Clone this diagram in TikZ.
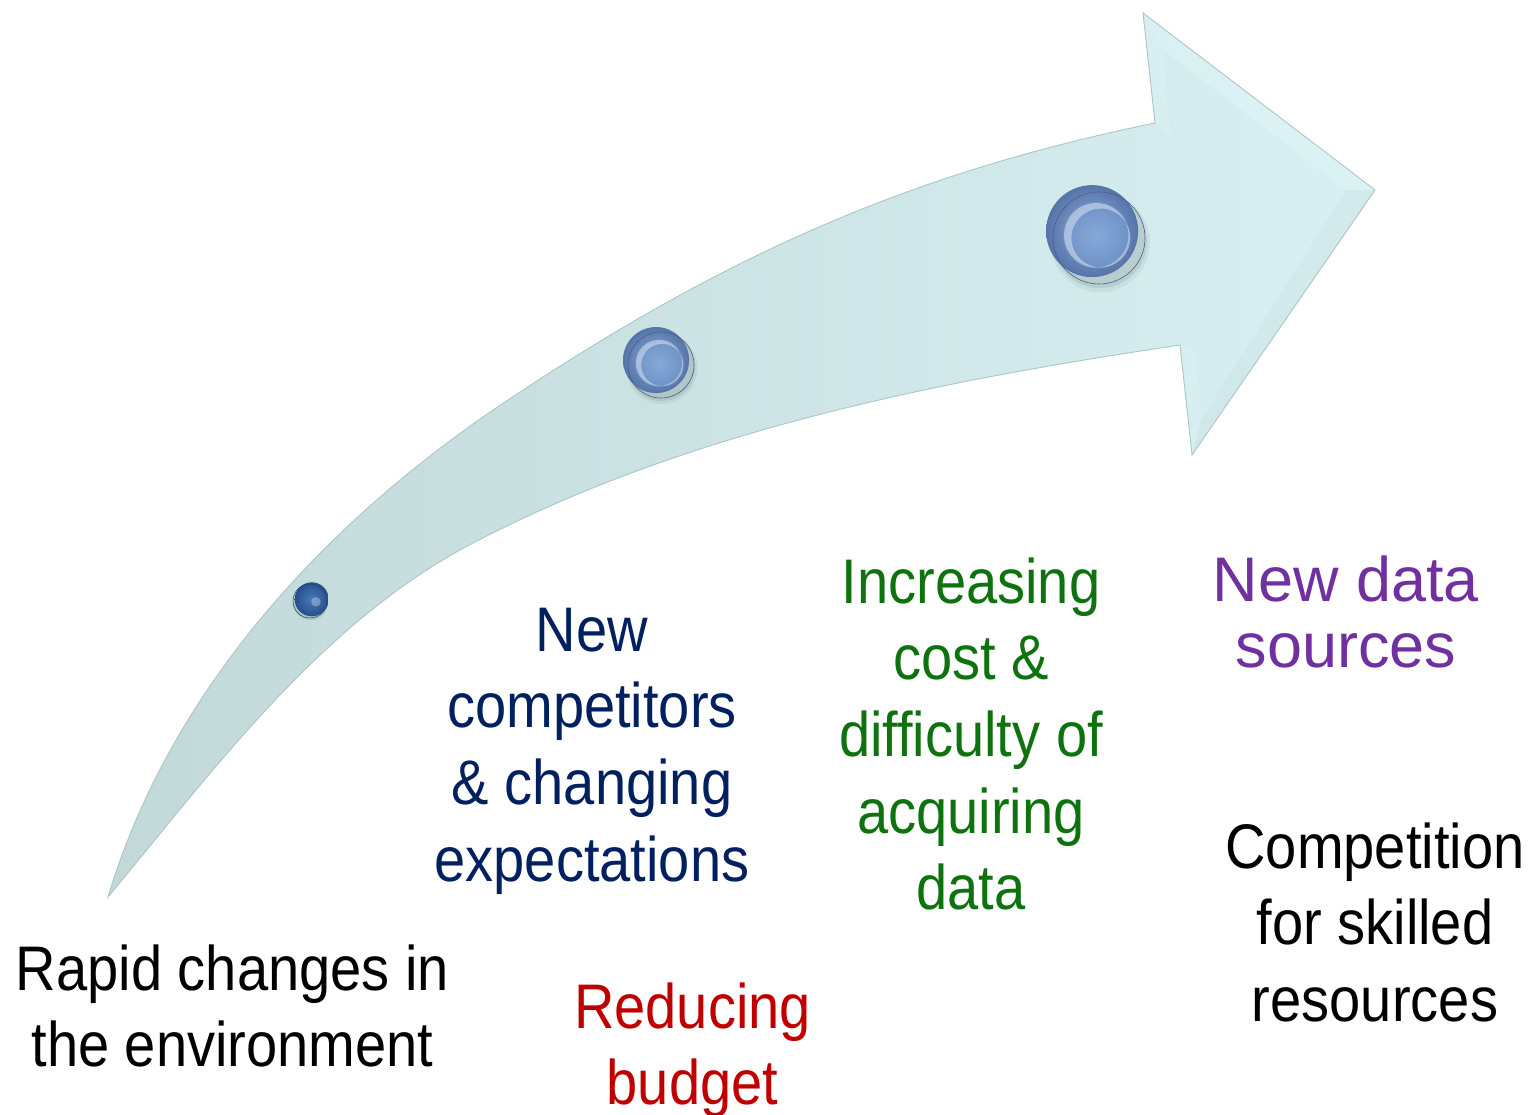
\documentclass[tikz,border=0pt]{standalone}
\usepackage{fontspec}
\newfontfamily\condsans[FakeStretch=0.89]{Liberation Sans}
\newfontfamily\plainsans{Liberation Sans}

\definecolor{bandL}{HTML}{C2D8D9}
\definecolor{bandR}{HTML}{D8F0F2}
\definecolor{bandEdge}{HTML}{ABC6C8}
\definecolor{bevelHi}{HTML}{E2F6F8}
\definecolor{bevelLo}{HTML}{CCE4E6}
\definecolor{navy}{HTML}{002060}
\definecolor{darkred}{HTML}{C00000}
\definecolor{leafgreen}{HTML}{0E720E}
\definecolor{violet}{HTML}{7030A0}
\definecolor{rimblue}{HTML}{45618F}
\definecolor{outerblue}{HTML}{5574A8}
\definecolor{lightblue}{HTML}{92AFDA}
\definecolor{capblue}{HTML}{6F92C6}
\definecolor{capblueL}{HTML}{87A9DA}
\definecolor{deepblue}{HTML}{24508C}
\definecolor{midblue}{HTML}{4A7AB8}

% centred stack of lines, baseline on the first line
\newcommand\textlines[1]{\vtop{\halign{\hfil##\hfil\cr#1\crcr}}}

% glossy button with a raised cap: #1 name, #2 centre, #3 radius
\newcommand\buttondot[3]{%
  \node[circle, inner sep=0pt, minimum size=2*#3pt] (#1) at (#2) {};
  \begin{scope}[shift={(#1.center)}, scale=#3]
    \fill[black, opacity=0.05] (0.03,0.10) circle (1.08);
    \fill[black, opacity=0.08] (0.02,0.07) circle (1.02);
    \shade[inner color=lightblue, outer color=outerblue] (-0.15,-0.15) circle (1);
    \draw[rimblue, line width=0.6pt] (0,0) circle (1);
    \shade[inner color=capblueL, outer color=capblue] (-0.06,-0.06) circle (0.72);
    \fill[white, opacity=0.40, even odd rule]
      (-0.06,-0.06) circle (0.70) (0.04,0.0) circle (0.64);
  \end{scope}}

% small glossy bead: #1 name, #2 centre, #3 radius
\newcommand\beaddot[3]{%
  \node[circle, inner sep=0pt, minimum size=2*#3pt] (#1) at (#2) {};
  \begin{scope}[shift={(#1.center)}, scale=#3]
    \fill[black, opacity=0.10] (0.03,0.10) circle (1.03);
    \shade[inner color=midblue, outer color=deepblue] (0.1,-0.1) circle (1);
    \draw[deepblue!80!black, line width=0.5pt] (0,0) circle (1);
    \fill[white, opacity=0.30] (0.35,0.05) circle (0.28);
  \end{scope}}

\tikzset{
  band/.style={left color=bandL, right color=bandR},
  caption/.style={anchor=base, inner sep=0pt,
    font=\condsans\fontsize{63}{76.7}\selectfont},
  widecaption/.style={anchor=base, inner sep=0pt,
    font=\plainsans\fontsize{63}{66}\selectfont},
}

\def\arrowoutline{
  (108,897) .. controls (170,690) and (325,522) .. (505,402)
            .. controls (738,246) and (926,170) .. (1155,123)
  -- (1143,13) -- (1375,190) -- (1192,455) -- (1180,345)
            .. controls (938,381) and (690,430) .. (473,543)
            .. controls (322,622) and (217,766) .. (108,897)
  -- cycle}

\begin{document}
\begin{tikzpicture}[x=1pt, y=-1pt]
\useasboundingbox (0,0) rectangle (1533,1115);
\fill[white] (0,0) rectangle (1533,1115);

% curved arrow: upper edge, head, lower edge back to the tail
\path[band] \arrowoutline;
\begin{scope}
  \clip \arrowoutline;
  % bevel facets of the head
  \fill[bevelHi, opacity=0.45] (1143,13) -- (1375,190) -- (1346,190) -- (1163,50) -- cycle;
  \fill[bevelHi, opacity=0.35] (1143,13) -- (1163,50) -- (1170,135) -- (1155,123) -- cycle;
  \fill[bevelLo, opacity=0.45] (1375,190) -- (1192,455) -- (1201,420) -- (1346,190) -- cycle;
  \fill[bevelHi, opacity=0.30] (1180,345) -- (1196,352) -- (1201,420) -- (1192,455) -- cycle;
\end{scope}
\draw[bandEdge, line width=0.9pt, line join=miter] \arrowoutline;

% milestones on the arrow
\beaddot{m1}{310,601}{17}
\buttondot{m2}{661,365}{33}
\buttondot{m3}{1099,238}{46}

% labels
\node[caption] (env) at (232.5,990)
  {\textlines{Rapid changes in\cr the environment}};
\node[caption, text=navy] (comp) at (592,651)
  {\textlines{New\cr competitors\cr \& changing\cr expectations}};
\node[caption, text=darkred] (budget) at (692.5,1028)
  {\textlines{Reducing\cr budget}};
\node[caption, text=leafgreen] (cost) at (971,603)
  {\textlines{Increasing\cr cost \&\cr difficulty of\cr acquiring\cr data}};
\node[widecaption, text=violet] (sources) at (1346,601)
  {\textlines{New data\cr sources}};
\node[caption] (skills) at (1375,868)
  {\textlines{Competition\cr for skilled\cr resources}};
\end{tikzpicture}
\end{document}
